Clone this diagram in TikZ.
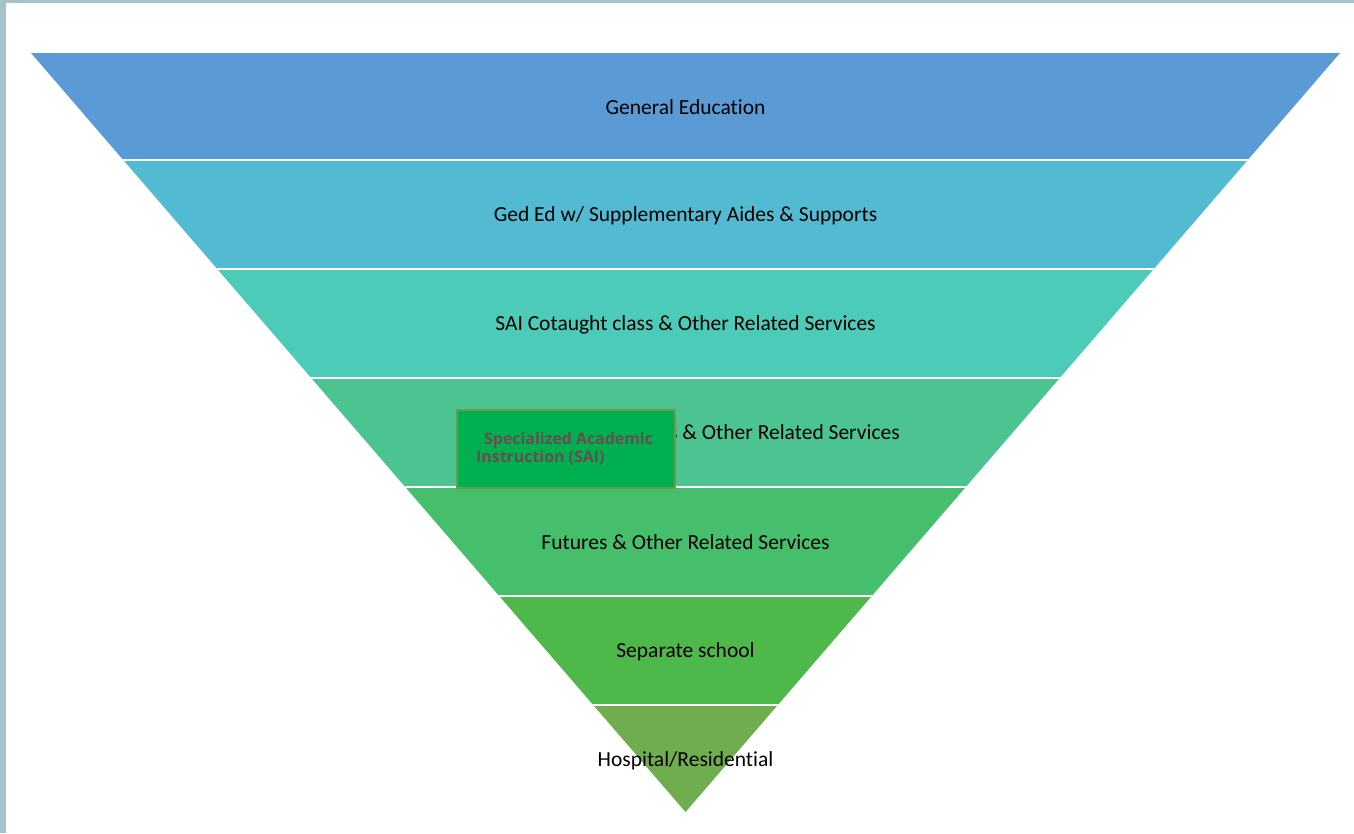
\documentclass[tikz,border=0pt]{standalone}
\usepackage{fontspec}
\setmainfont{Carlito}[RawFeature={-liga;-clig;-dlig;-calt}]
\newfontfamily\boxfont{Open Sans}
\definecolor{frameteal}{HTML}{A3C4C8}
\definecolor{bandA}{HTML}{5A9BD5}
\definecolor{bandB}{HTML}{52BAD1}
\definecolor{bandC}{HTML}{4DCBB9}
\definecolor{bandD}{HTML}{4BC491}
\definecolor{bandE}{HTML}{45BF6C}
\definecolor{bandF}{HTML}{4FB84B}
\definecolor{bandG}{HTML}{6FAD4E}
\definecolor{saifill}{HTML}{00B050}
\definecolor{saiedge}{HTML}{6F9A4C}
\definecolor{saitext}{HTML}{6E4A4C}
\begin{document}
\begin{tikzpicture}[x=1pt,y=-1pt,
  bandlabel/.style={font=\fontsize{21.5}{24}\selectfont, text=black, inner sep=0pt},
  saibox/.style={draw=saiedge, line width=1.5pt, fill=saifill},
  saiword/.style={font=\boxfont\bfseries\fontsize{15.9}{18}\selectfont, text=saitext, inner sep=0pt, anchor=west}]
\useasboundingbox (0,0) rectangle (1354,833);
\fill[white] (0,0) rectangle (1354,833);
\fill[frameteal] (0,0) rectangle (1354,3);
\fill[frameteal] (0,0) rectangle (6,833);
\begin{scope}
  \clip (31,53) -- (1340,53) -- (685.5,812) -- cycle;
  \fill[bandA] (0,53) rectangle (1354,160);
  \fill[bandB] (0,160) rectangle (1354,269);
  \fill[bandC] (0,269) rectangle (1354,378);
  \fill[bandD] (0,378) rectangle (1354,487);
  \fill[bandE] (0,487) rectangle (1354,596);
  \fill[bandF] (0,596) rectangle (1354,705);
  \fill[bandG] (0,705) rectangle (1354,813);
  \foreach \yy in {160,269,378,487,596,705}
    \draw[white, line width=2pt] (0,\yy) -- (1354,\yy);
\end{scope}
\node[bandlabel] (l1) at (685.5,107) {General Education};
\node[bandlabel] (l2) at (685.5,216) {Ged Ed w/ Supplementary Aides \& Supports};
\node[bandlabel] (l3) at (685.5,325) {SAI Cotaught class \& Other Related Services};
\node[bandlabel, anchor=east] (l4) at (900,434) {SAI Special Classes \& Other Related Services};
\node[bandlabel] (l5) at (685.5,542) {Futures \& Other Related Services};
\node[bandlabel] (l6) at (685.5,652) {Separate school};
\node[bandlabel] (l7) at (685.5,761) {Hospital/Residential};
\node[saibox, minimum width=218pt, minimum height=78pt, inner sep=0pt] (sai) at (566,449) {};
\node[saiword] (sai1) at (484,440) {Specialized Academic};
\node[saiword] (sai2) at (476,458) {Instruction (SAI)};
\end{tikzpicture}
\end{document}
